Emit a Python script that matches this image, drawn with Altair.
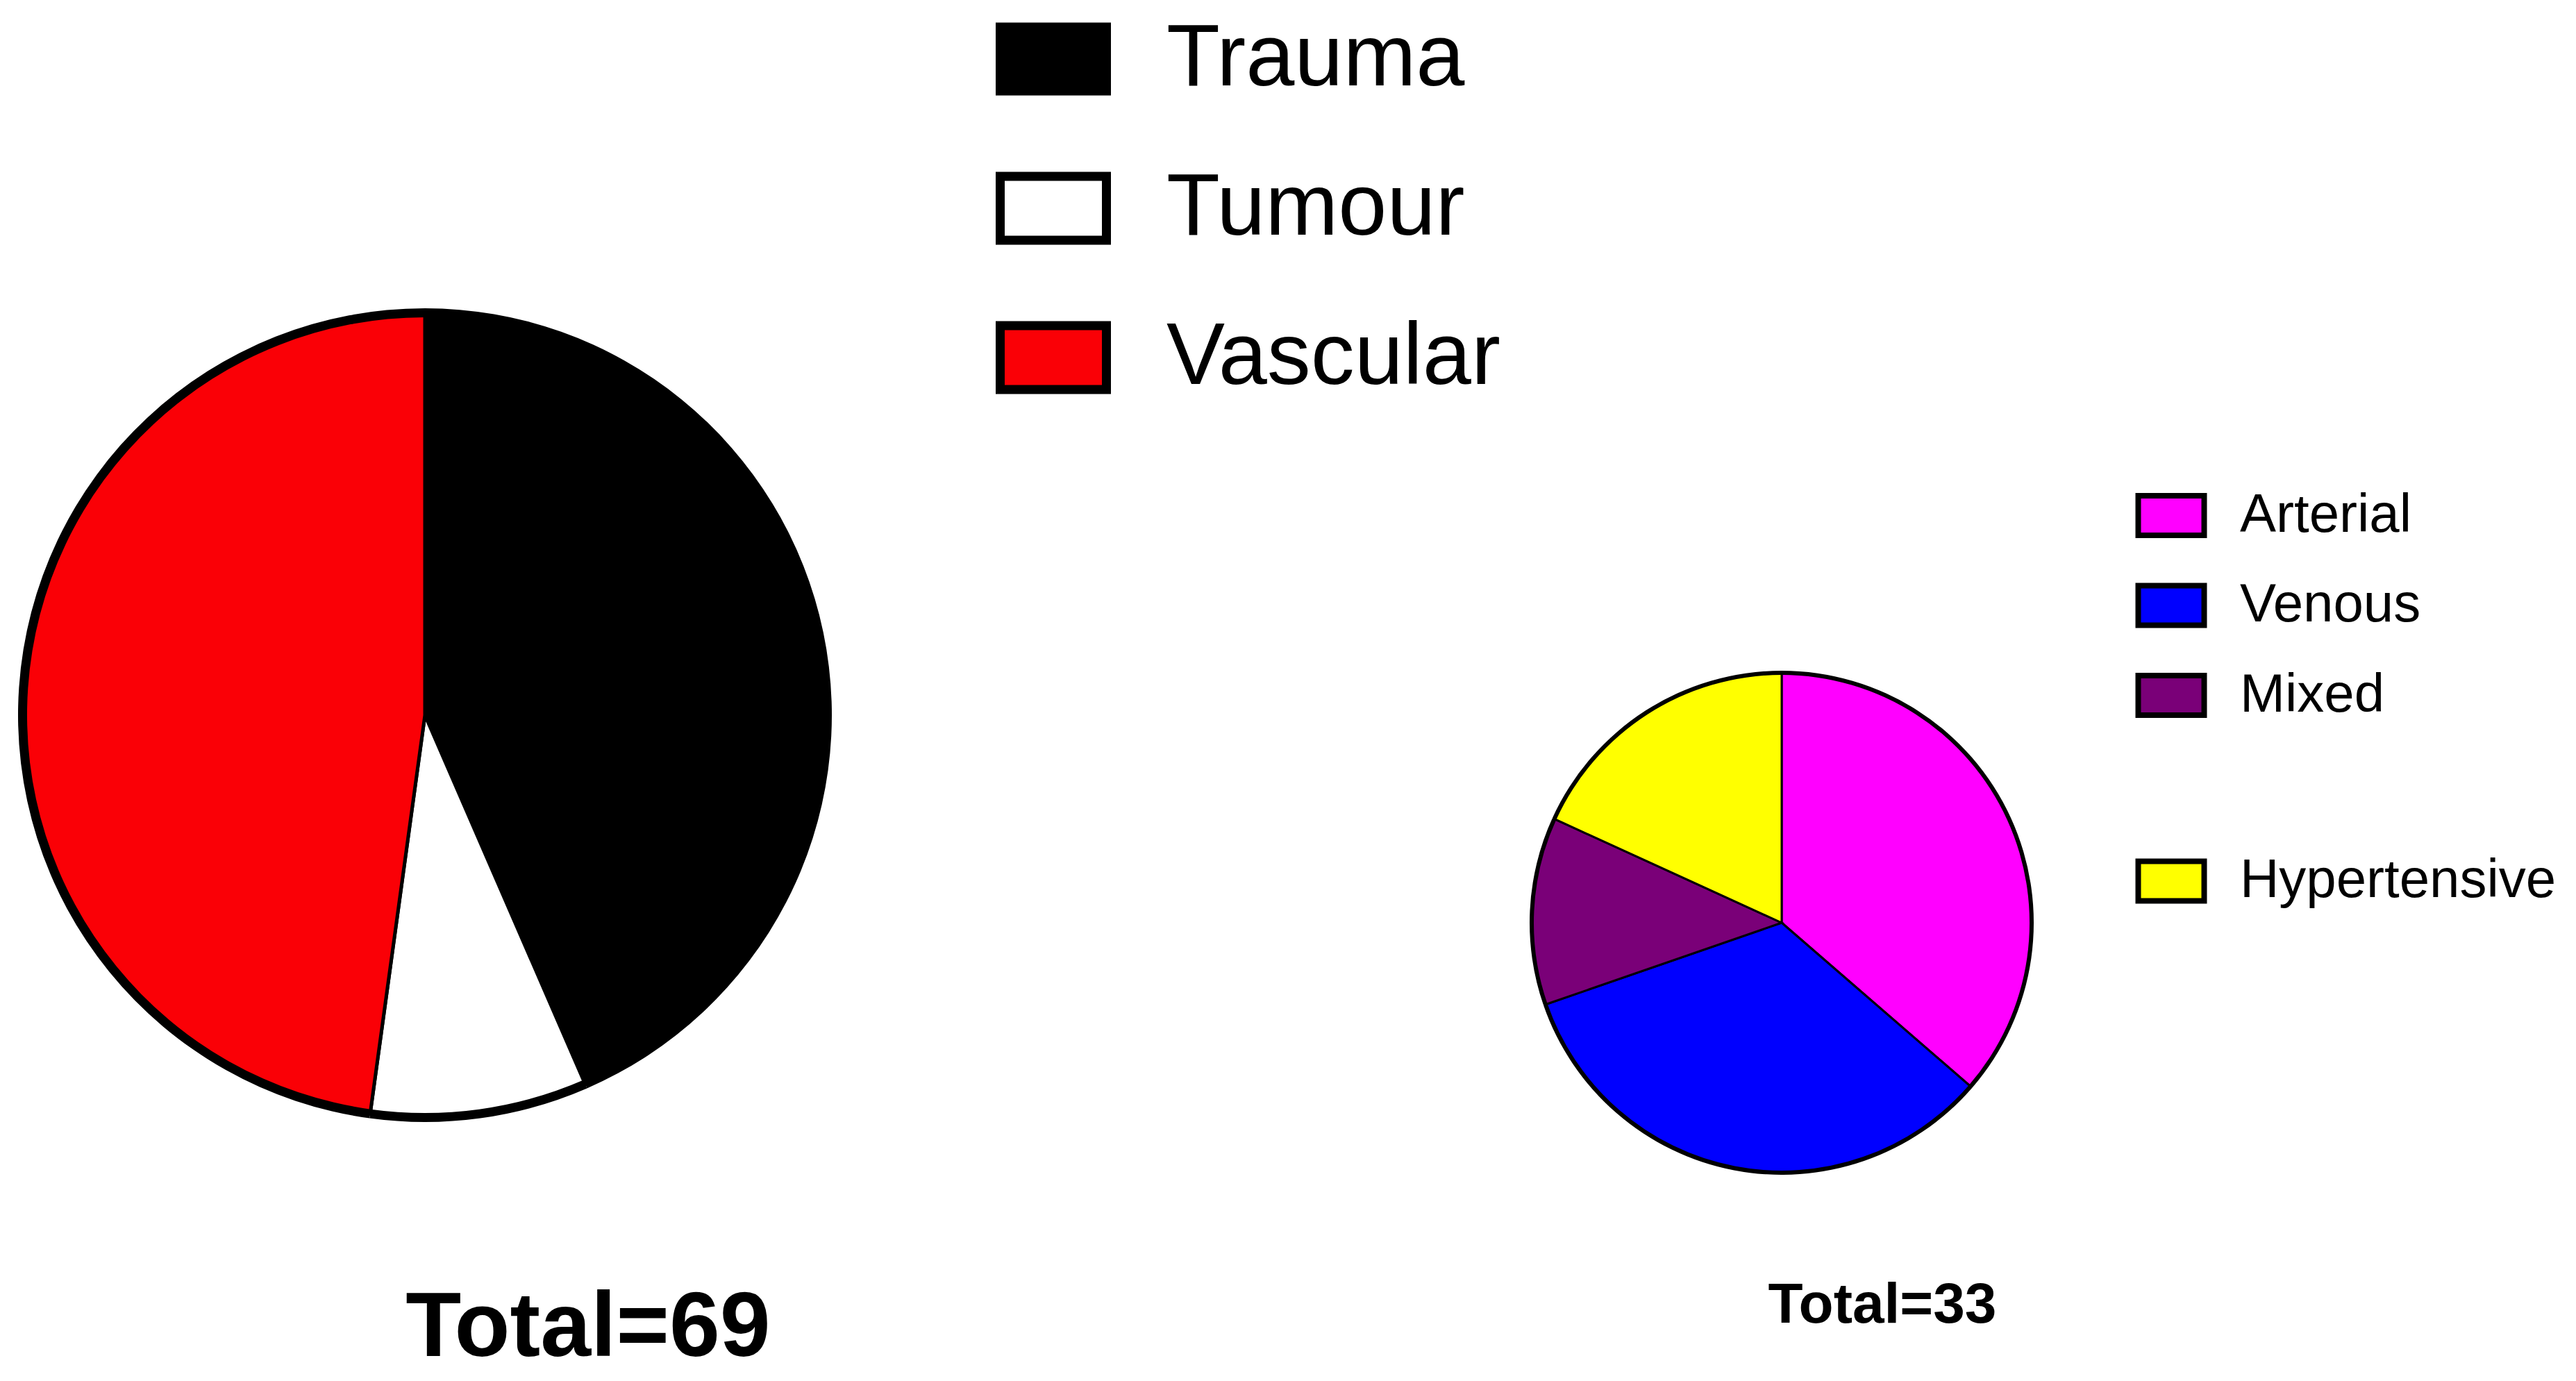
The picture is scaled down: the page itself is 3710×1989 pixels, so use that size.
import math
import altair as alt
import pandas as pd

# ---- data ----
cause_cats = ["Trauma", "Tumour", "Vascular"]
cause_vals = [30, 6, 33]
cause_colors = ["#000000", "#ffffff", "#fa0006"]

vasc_cats = ["Arterial", "Venous", "Mixed", "Hypertensive"]
vasc_vals = [12, 11, 4, 6]
vasc_colors = ["#ff00ff", "#0000ff", "#7a0078", "#ffff00"]

FONT = "Liberation Sans"
RECT = "M-1,-0.6L1,-0.6L1,0.6L-1,0.6Z"

left_df = pd.DataFrame({"cat": cause_cats, "value": cause_vals,
                        "idx": list(range(len(cause_cats)))})
right_df = pd.DataFrame({"cat": vasc_cats, "value": vasc_vals,
                         "idx": list(range(len(vasc_cats)))})


def with_fractions(df):
    return (
        alt.Chart(df)
        .transform_joinaggregate(total="sum(value)")
        .transform_window(cum="sum(value)", sort=[alt.SortField("idx", order="ascending")],
                          frame=[None, 0])
        .transform_calculate(start="(datum.cum - datum.value) / datum.total",
                             end="datum.cum / datum.total")
    )


theta = alt.Theta("start:Q", stack=None, scale=alt.Scale(domain=[0, 1], range=[0, 2 * math.pi]))
theta2 = alt.Theta2("end:Q")


def legend(x, y, size, sw, fs, row_pad, lab_off):
    return alt.Legend(
        title=None, orient="none", legendX=x, legendY=y, direction="vertical",
        symbolType=RECT, symbolSize=size, symbolStrokeWidth=sw, symbolStrokeColor="black",
        symbolOpacity=1, labelFont=FONT, labelFontSize=fs, labelColor="black",
        labelLimit=3000, labelOffset=lab_off, rowPadding=row_pad, padding=0,
    )


# ---- left pie ----
LCX, LCY, LR = 604, 1022, 586
left_arcs = with_fractions(left_df).mark_arc(radius=LR - 6, stroke="black", strokeWidth=5).encode(
    theta=theta, theta2=theta2, x=alt.value(LCX), y=alt.value(LCY),
    color=alt.Color("cat:N", scale=alt.Scale(domain=cause_cats, range=cause_colors),
                    legend=legend(1426, -6, 153 ** 2, 13, 126, 60, 80)),
)
left_ring = with_fractions(left_df).mark_arc(radius=LR, radius2=LR - 13, fill="black").encode(
    theta=theta, theta2=theta2, x=alt.value(LCX), y=alt.value(LCY),
)

# ---- right pie ----
RCX, RCY, RR = 2558, 1321, 363
right_a = (
    with_fractions(right_df).transform_filter("datum.idx < 3")
    .mark_arc(radius=RR - 3, stroke="black", strokeWidth=3)
    .encode(
        theta=theta, theta2=theta2, x=alt.value(RCX), y=alt.value(RCY),
        color=alt.Color("cat:N", scale=alt.Scale(domain=vasc_cats[:3], range=vasc_colors[:3]),
                        legend=legend(3067.5, 683, 95 ** 2, 8, 78, 33.5, 47.5)),
    )
)
right_b = (
    with_fractions(right_df).transform_filter("datum.idx == 3")
    .mark_arc(radius=RR - 3, stroke="black", strokeWidth=3)
    .encode(
        theta=theta, theta2=theta2, x=alt.value(RCX), y=alt.value(RCY),
        color=alt.Color("cat:N", scale=alt.Scale(domain=vasc_cats[3:], range=vasc_colors[3:]),
                        legend=legend(3067.5, 1209.5, 95 ** 2, 8, 78, 33.5, 47.5)),
    )
)
right_ring = with_fractions(right_df).mark_arc(radius=RR, radius2=RR - 6, fill="black").encode(
    theta=theta, theta2=theta2, x=alt.value(RCX), y=alt.value(RCY),
)

# ---- totals ----
left_total = (
    alt.Chart(left_df).transform_aggregate(total="sum(value)")
    .transform_calculate(label="'Total=' + datum.total")
    .mark_text(font=FONT, fontWeight="bold", fontSize=131, align="center",
               baseline="alphabetic", color="black")
    .encode(text="label:N", x=alt.value(839), y=alt.value(1945))
)
right_total = (
    alt.Chart(right_df).transform_aggregate(total="sum(value)")
    .transform_calculate(label="'Total=' + datum.total")
    .mark_text(font=FONT, fontWeight="bold", fontSize=82, align="center",
               baseline="alphabetic", color="black")
    .encode(text="label:N", x=alt.value(2703), y=alt.value(1897))
)

chart = (
    alt.layer(left_arcs, left_ring, right_a, right_b, right_ring, left_total, right_total)
    .resolve_scale(color="independent")
    .properties(width=3694, height=1973, padding=0,
                autosize=alt.AutoSizeParams(type="none"), background="white")
    .configure_view(stroke=None)
)

chart.save("out.html", embed_options={"renderer": "svg", "actions": False})
